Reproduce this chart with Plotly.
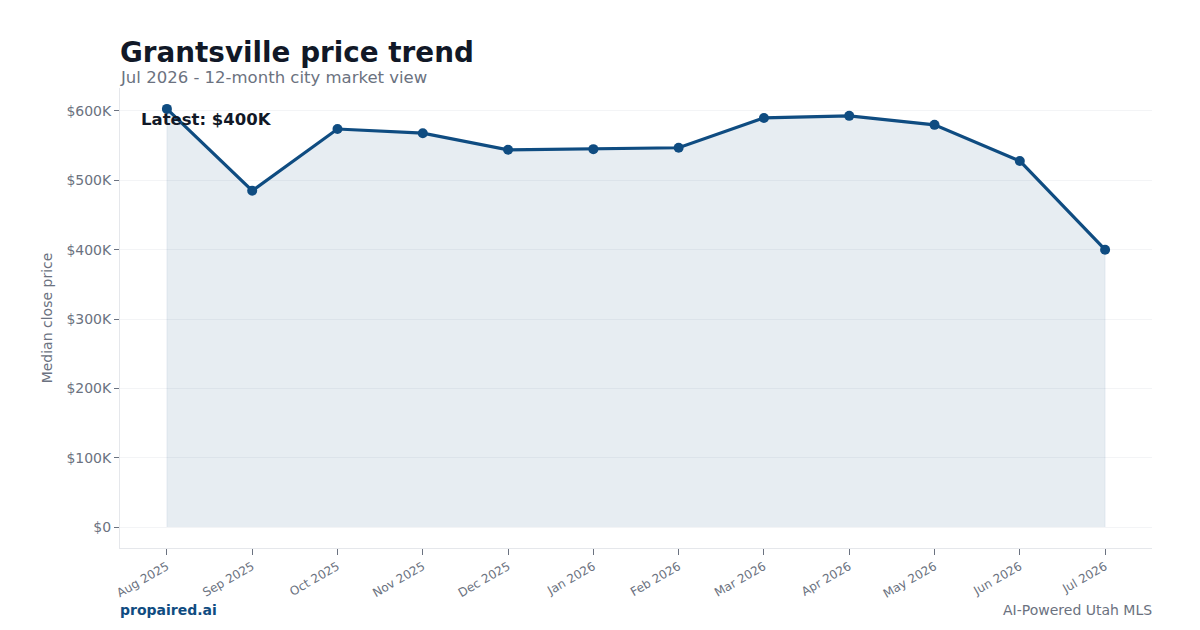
import plotly.graph_objects as go

months = ["Aug 2025", "Sep 2025", "Oct 2025", "Nov 2025", "Dec 2025", "Jan 2026",
          "Feb 2026", "Mar 2026", "Apr 2026", "May 2026", "Jun 2026", "Jul 2026"]
prices = [603000, 485000, 574000, 568000, 544000, 545000,
          547000, 590000, 593000, 580000, 528000, 400000]
tick_vals = [0, 100000, 200000, 300000, 400000, 500000, 600000]
tick_text = ["$0", "$100K", "$200K", "$300K", "$400K", "$500K", "$600K"]

LINE = "#0f4c81"
GRAY = "#6b7280"
FONT = "DejaVu Sans"

fig = go.Figure()
# filled area (closed polygon down to zero)
fig.add_trace(go.Scatter(
    x=[months[0]] + months + [months[-1]], y=[0] + prices + [0],
    mode="lines", fill="toself", fillcolor="rgba(15,76,129,0.10)",
    line=dict(color="rgba(15,76,129,0.07)", width=1),
    hoverinfo="skip", showlegend=False,
))
fig.add_trace(go.Scatter(
    x=months, y=prices, mode="lines+markers",
    line=dict(color=LINE, width=3.2),
    marker=dict(color=LINE, size=10),
    hoverinfo="skip", showlegend=False,
))

ymax = max(prices)
fig.update_layout(
    width=1200, height=630,
    margin=dict(l=120, r=48, t=88, b=82),
    paper_bgcolor="white", plot_bgcolor="white",
    font=dict(family=FONT, color=GRAY),
    xaxis=dict(
        type="category", range=[-0.55, len(months) - 0.45],
        showgrid=False, showline=True, linecolor="#e5e7eb", linewidth=1,
        ticks="outside", ticklen=6, tickcolor="#6b7280",
        tickangle=-30, tickfont=dict(size=12, color=GRAY, family=FONT),
    ),
    yaxis=dict(
        range=[-0.05 * ymax, 1.05 * ymax],
        tickvals=tick_vals, ticktext=tick_text,
        showgrid=True, gridcolor="#f3f4f6", zeroline=False,
        showline=True, linecolor="#e5e7eb", linewidth=1,
        ticks="outside", ticklen=5, tickcolor="#6b7280",
        tickfont=dict(size=14, color=GRAY, family=FONT),
        title=dict(text="Median close price", font=dict(size=14, color=GRAY, family=FONT), standoff=10),
    ),
    annotations=[
        dict(text="<b>Grantsville price trend</b>", xref="paper", yref="paper",
             x=0, y=1, xanchor="left", yanchor="bottom", yshift=17, xshift=-2,
             showarrow=False, font=dict(size=27.8, color="#111827", family=FONT)),
        dict(text="Jul 2026 - 12-month city market view", xref="paper", yref="paper",
             x=0, y=1, xanchor="left", yanchor="bottom", yshift=-1, xshift=-2,
             showarrow=False, font=dict(size=16.5, color=GRAY, family=FONT)),
        dict(text="<b>Latest: $%dK</b>" % round(prices[-1] / 1000), xref="paper", yref="paper",
             x=0, y=1, xanchor="left", yanchor="middle", xshift=19, yshift=-31,
             showarrow=False, font=dict(size=16.5, color="#111827", family=FONT)),
        dict(text="<b>propaired.ai</b>", xref="paper", yref="paper",
             x=0, y=0, xanchor="left", yanchor="middle", yshift=-62, xshift=-2,
             showarrow=False, font=dict(size=14, color=LINE, family=FONT)),
        dict(text="AI-Powered Utah MLS", xref="paper", yref="paper",
             x=1, y=0, xanchor="right", yanchor="middle", yshift=-62, xshift=2,
             showarrow=False, font=dict(size=14, color=GRAY, family=FONT)),
    ],
)

fig.write_html("out.html")
